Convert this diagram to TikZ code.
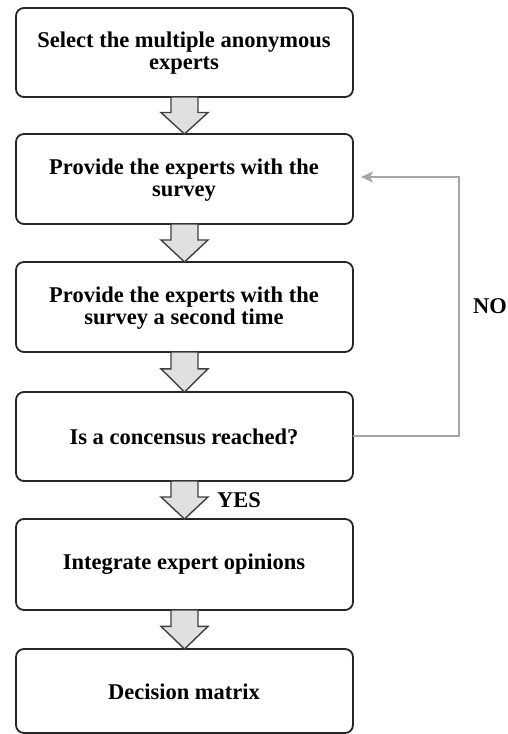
\documentclass[tikz,border=0pt]{standalone}
\usepackage{fontspec}
\setmainfont{Liberation Serif}
\usetikzlibrary{arrows.meta}
\begin{document}
\begin{tikzpicture}[x=1pt,y=-1pt,
  stage/.style={draw=black!85,line width=1.8pt,rounded corners=8pt,fill=white},
  bigfont/.style={font=\bfseries\fontsize{22.5}{22.5}\selectfont},
  label/.style={bigfont,align=center},
  blockarrow/.style={draw=black!75,line width=1.4pt,fill=black!12,line join=miter},
  loopline/.style={draw=black!35,line width=2.2pt}]
\useasboundingbox (0,0) rectangle (507,734);

% stage boxes
\draw[stage] (16,8) rectangle (353,97);
\draw[stage] (16,134) rectangle (353,224);
\draw[stage] (16,262) rectangle (353,352);
\draw[stage] (16,392) rectangle (353,481);
\draw[stage] (16,519) rectangle (353,610);
\draw[stage] (16,649) rectangle (353,733);

% stage labels
\node[label] (s1) at (184,53) {Select the multiple anonymous\\experts};
\node[label] (s2) at (184,180) {Provide the experts with the\\survey};
\node[label] (s3) at (184,308) {Provide the experts with the\\survey a second time};
\node[label] (s4) at (184,437) {Is a concensus reached?};
\node[label] (s5) at (184,564) {Integrate expert opinions};
\node[label] (s6) at (184,692) {Decision matrix};

% downward block arrows between the stages
\foreach \top/\tip in {97/134, 224/262, 352/392, 481/519, 610/649}{
  \pgfmathsetmacro{\neck}{\top+0.42*(\tip-\top)}
  \draw[blockarrow] (171,\top) -- (198,\top) -- (198,\neck) -- (208,\neck)
     -- (184.5,\tip) -- (161,\neck) -- (171,\neck) -- cycle;
}

% loop back when no consensus
\coordinate (r4) at (353,436);
\coordinate (c1) at (459,436);
\coordinate (c2) at (459,177);
\coordinate (t2) at (361,177);
\draw[loopline,-{Stealth[length=12pt,width=11pt,inset=3pt]}] (r4) -- (c1) -- (c2) -- (t2);

\node[bigfont] (no) at (490,306) {NO};
\node[bigfont] (yes) at (239,500) {YES};
\end{tikzpicture}
\end{document}
